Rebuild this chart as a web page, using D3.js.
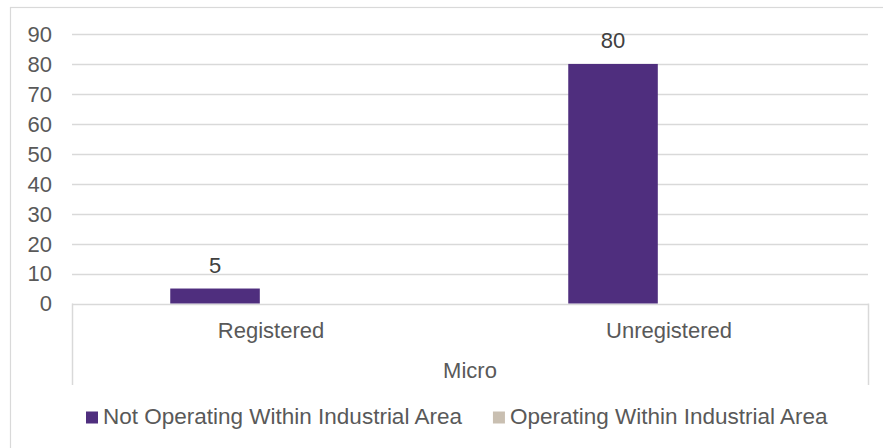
<!DOCTYPE html>
<html>
<head>
<meta charset="utf-8">
<script src="https://cdn.jsdelivr.net/npm/d3@7"></script>
<style>
  html, body { margin: 0; padding: 0; background: #fff; }
  svg { display: block; font-family: Arial, "Liberation Sans", sans-serif; }
</style>
</head>
<body>
<svg id="chart" width="883" height="448"></svg>
<script>
// ---- data ----
const categories = ["Registered", "Unregistered"];
const groupLabel = "Micro";
const seriesNames = ["Not Operating Within Industrial Area", "Operating Within Industrial Area"];
const notOperating = [5, 80];
const operating = [null, null];
const yTicks = [0, 10, 20, 30, 40, 50, 60, 70, 80, 90];
const seriesColors = ["#4f2e7e", "#c9bfb1"];

// ---- layout ----
const W = 883, H = 448;
const plot = { left: 72, right: 868, top: 34, bottom: 303.5 };
const fontSize = 22;
const legendFontSize = 22.5;
const textColor = "#595959";
const gridColor = "#d9d9d9";

const svg = d3.select("#chart");

// outer chart border
svg.append("rect")
  .attr("x", 10.5).attr("y", 7.5)
  .attr("width", 900).attr("height", 500)
  .attr("fill", "#fff").attr("stroke", gridColor).attr("stroke-width", 1.2);

const y = d3.scaleLinear().domain([0, 90]).range([plot.bottom, plot.top]);
const x0 = d3.scaleBand().domain(categories).range([plot.left, plot.right]).padding(0);
const x1 = d3.scaleBand().domain(seriesNames).range([-100.75, 100.75]).paddingInner(0.2).paddingOuter(0);

// gridlines
svg.append("g").selectAll("line")
  .data(yTicks)
  .join("line")
  .attr("x1", plot.left).attr("x2", plot.right)
  .attr("y1", d => Math.round(y(d)) + 0.5).attr("y2", d => Math.round(y(d)) + 0.5)
  .attr("stroke", gridColor).attr("stroke-width", 1.5);

// y tick labels
svg.append("g").selectAll("text")
  .data(yTicks)
  .join("text")
  .attr("x", 52)
  .attr("y", d => y(d))
  .attr("dy", "0.36em")
  .attr("text-anchor", "end")
  .attr("font-size", fontSize)
  .attr("fill", textColor)
  .text(d => d);

// category axis box sides
const axisBottom = 385;
svg.append("g").selectAll("line")
  .data([plot.left, plot.right])
  .join("line")
  .attr("x1", d => d + 0.5).attr("x2", d => d + 0.5)
  .attr("y1", plot.bottom).attr("y2", axisBottom)
  .attr("stroke", gridColor).attr("stroke-width", 1.5);

// bars
const barData = [];
categories.forEach((c, i) => {
  barData.push({ cat: c, series: seriesNames[0], value: notOperating[i], color: seriesColors[0] });
  barData.push({ cat: c, series: seriesNames[1], value: operating[i], color: seriesColors[1] });
});
const drawn = barData.filter(d => d.value != null);

svg.append("g").selectAll("rect")
  .data(drawn)
  .join("rect")
  .attr("x", d => x0(d.cat) + x0.bandwidth() / 2 + x1(d.series))
  .attr("width", x1.bandwidth())
  .attr("y", d => y(d.value))
  .attr("height", d => y(0) - y(d.value))
  .attr("fill", d => d.color);

// data labels
svg.append("g").selectAll("text")
  .data(drawn)
  .join("text")
  .attr("x", d => x0(d.cat) + x0.bandwidth() / 2 + x1(d.series) + x1.bandwidth() / 2)
  .attr("y", d => y(d.value) - 15.5)
  .attr("text-anchor", "middle")
  .attr("font-size", fontSize)
  .attr("fill", "#404040")
  .text(d => d.value);

// category labels
svg.append("g").selectAll("text")
  .data(categories)
  .join("text")
  .attr("x", d => x0(d) + x0.bandwidth() / 2)
  .attr("y", 338)
  .attr("text-anchor", "middle")
  .attr("font-size", fontSize)
  .attr("fill", textColor)
  .text(d => d);

// group label
svg.append("text")
  .attr("x", (plot.left + plot.right) / 2)
  .attr("y", 378)
  .attr("text-anchor", "middle")
  .attr("font-size", fontSize)
  .attr("fill", textColor)
  .text(groupLabel);

// legend
const legend = svg.append("g");
let lx = 86;
seriesNames.forEach((name, i) => {
  legend.append("rect")
    .attr("x", lx).attr("y", 411.5)
    .attr("width", 12).attr("height", 12)
    .attr("fill", seriesColors[i]);
  const t = legend.append("text")
    .attr("x", lx + 17)
    .attr("y", 424)
    .attr("font-size", legendFontSize)
    .attr("fill", textColor)
    .text(name);
  lx += 17 + t.node().getComputedTextLength() + 31;
});
</script>
</body>
</html>
